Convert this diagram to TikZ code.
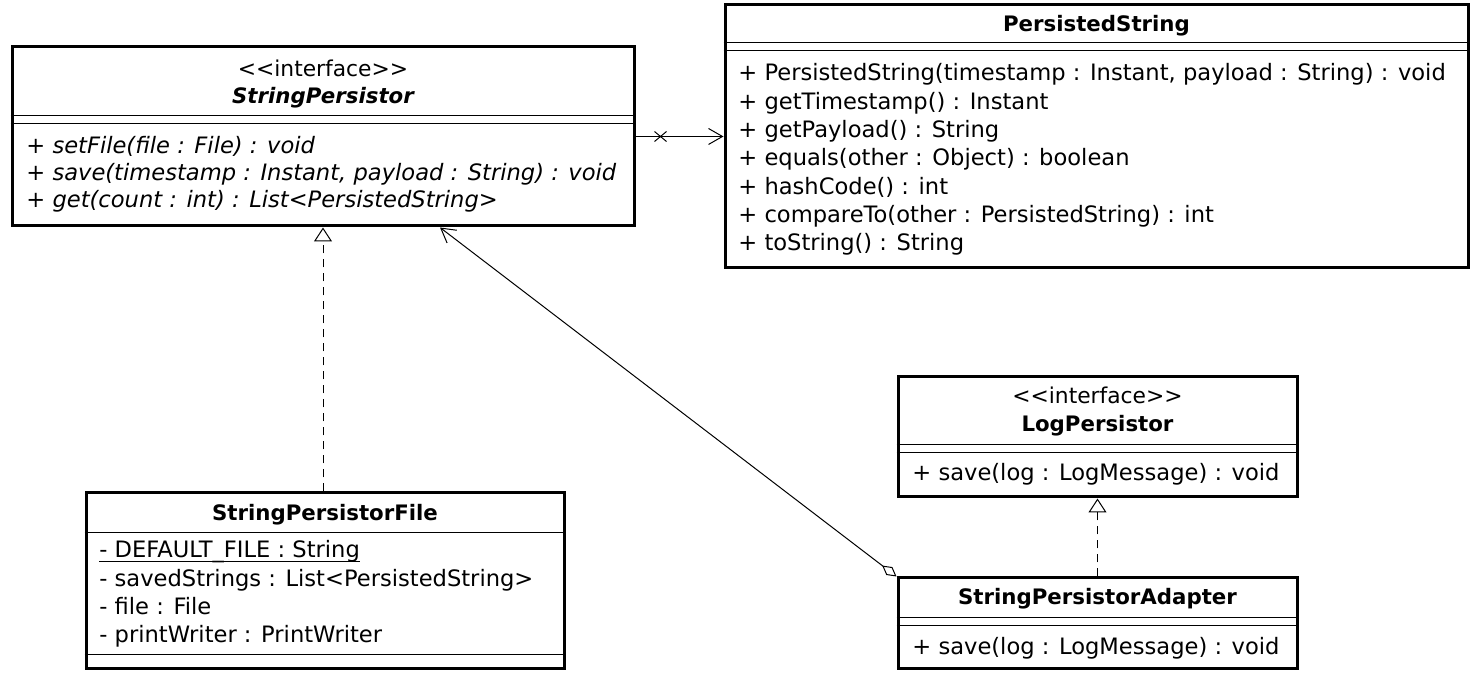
\documentclass[tikz,border=0pt]{standalone}
\usepackage{fontspec}
\setmainfont{DejaVu Sans}
\usetikzlibrary{arrows.meta}

\tikzset{
    classbox/.style={draw, line width=1.5pt, inner sep=0pt},
    sepline/.style={line width=0.5pt},
    title/.style={anchor=base, inner sep=0pt, font=\fontsize{10.65}{12}\selectfont\bfseries},
    stereo/.style={anchor=base, inner sep=0pt, font=\fontsize{10.9}{12}\selectfont},
    member/.style={anchor=base west, inner sep=0pt, font=\fontsize{11.3}{13}\selectfont},
    realize/.style={line width=0.5pt, dash pattern=on 4pt off 3pt, -{Triangle[open, length=7pt, width=9pt]}},
    assoc/.style={line width=0.5pt, -{Straight Barb[length=7pt, width=8pt]}},
    aggr/.style={line width=0.5pt, {Diamond[open, length=9pt, width=5pt]}-{Straight Barb[length=7pt, width=8pt]}}
}

\begin{document}
\begin{tikzpicture}[x=0.5pt, y=-0.5pt]
    \useasboundingbox (0,0) rectangle (1479,683);

    % StringPersistor
    \node[classbox, minimum width=311pt, minimum height=89.5pt] (sp) at (323,136.5) {};
    \node[stereo] (spst) at (323,77) {{<}{<}interface{>}{>}};
    \node[title, font=\fontsize{10.65}{12}\selectfont\bfseries\itshape] (spname) at (323,104) {StringPersistor};
    \draw[sepline] (sp.west |- 0,116) -- (sp.east |- 0,116);
    \draw[sepline] (sp.west |- 0,124) -- (sp.east |- 0,124);
    \foreach \t [count=\i] in {{+ setFile(file : File) : void},
        {+ save(timestamp : Instant, payload : String) : void},
        {+ get(count : int) : List<PersistedString>}} {
        \node[member, font=\fontsize{11.3}{13}\selectfont\itshape] (spop\i) at (26, 127+27*\i) {\t};
    }

    % PersistedString
    \node[classbox, minimum width=371.5pt, minimum height=131.5pt] (ps) at (1096.5,136.5) {};
    \node[title] (psname) at (1096.5,32) {PersistedString};
    \draw[sepline] (ps.west |- 0,43) -- (ps.east |- 0,43);
    \draw[sepline] (ps.west |- 0,51) -- (ps.east |- 0,51);
    \foreach \t [count=\i] in {{+ PersistedString(timestamp : Instant, payload : String) : void},
        {+ getTimestamp() : Instant},
        {+ getPayload() : String},
        {+ equals(other : Object) : boolean},
        {+ hashCode() : int},
        {+ compareTo(other : PersistedString) : int},
        {+ toString() : String}} {
        \node[member] (psop\i) at (738, 52.7+28.3*\i) {\t};
    }

    % LogPersistor
    \node[classbox, minimum width=199.5pt, minimum height=60pt] (lp) at (1097.5,437) {};
    \node[stereo] (lpst) at (1097.5,404) {{<}{<}interface{>}{>}};
    \node[title] (lpname) at (1097.5,432) {LogPersistor};
    \draw[sepline] (lp.west |- 0,445) -- (lp.east |- 0,445);
    \draw[sepline] (lp.west |- 0,453) -- (lp.east |- 0,453);
    \node[member] (lpop1) at (912,481) {+ save(log : LogMessage) : void};

    % StringPersistorFile
    \node[classbox, minimum width=239pt, minimum height=88pt] (spf) at (325,581) {};
    \node[title] (spfname) at (325,521) {StringPersistorFile};
    \draw[sepline] (spf.west |- 0,533) -- (spf.east |- 0,533);
    \node[member] (spfat1) at (99,558) {- DEFAULT\_FILE : String};
    \draw[sepline] ([yshift=-1.8pt]spfat1.base west) -- ([yshift=-1.8pt]spfat1.base east);
    \node[member] (spfat2) at (99,586.5) {- savedStrings : List<PersistedString>};
    \node[member] (spfat3) at (99,615) {- file : File};
    \node[member] (spfat4) at (99,643) {- printWriter : PrintWriter};
    \draw[sepline] (spf.west |- 0,655) -- (spf.east |- 0,655);

    % StringPersistorAdapter
    \node[classbox, minimum width=199.5pt, minimum height=45.5pt] (spa) at (1097.5,623.5) {};
    \node[title] (spaname) at (1097.5,605) {StringPersistorAdapter};
    \draw[sepline] (spa.west |- 0,618) -- (spa.east |- 0,618);
    \draw[sepline] (spa.west |- 0,626) -- (spa.east |- 0,626);
    \node[member] (spaop1) at (912,655) {+ save(log : LogMessage) : void};

    % relazioni
    \draw[realize] (sp.south |- spf.north) -- (sp.south);
    \draw[realize] (spa.north) -- (lp.south);
    \draw[aggr] (spa.north west) -- (440,0 |- sp.south);
    \draw[assoc] (sp.east) -- (ps.west);
    \draw[line width=0.5pt] (sp.east) ++(25,0) +(-6,-5) -- +(6,5) +(-6,5) -- +(6,-5);
\end{tikzpicture}
\end{document}
